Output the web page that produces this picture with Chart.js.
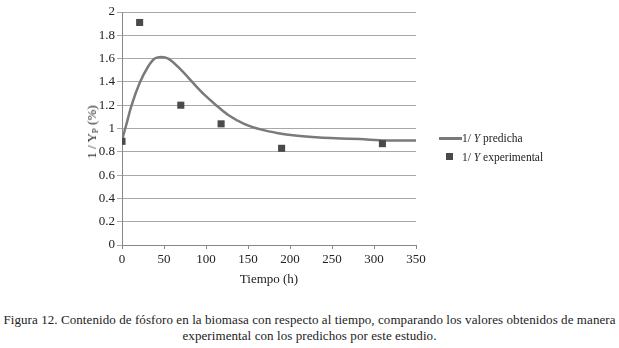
<!DOCTYPE html>
<html>
<head>
<meta charset="utf-8">
<script src="https://cdn.jsdelivr.net/npm/chart.js@4/dist/chart.umd.min.js"></script>
<style>
  body { margin: 0; background: #fff; font-family: "Liberation Serif", serif; color: #222; }
  #wrap { position: relative; width: 619px; height: 348px; overflow: hidden; }
  #chart-box { position: absolute; left: 0; top: 0; width: 619px; height: 292px; }
  .ytitle { position: absolute; left: 92px; top: 132px; transform: translate(-50%, -50%) rotate(-90deg);
    font-size: 13px; white-space: nowrap; }
  .ytitle sub { font-size: 9px; vertical-align: -2px; }
  .leg { position: absolute; left: 462px; font-size: 11.5px; white-space: nowrap; line-height: 14px; }
  .leg-line { position: absolute; left: 439px; top: 137px; width: 23px; height: 2.5px; background: #7a7a7a; }
  .leg-sq { position: absolute; left: 446px; top: 153px; width: 7px; height: 7px; background: #4a4a4a; }
  .caption { position: absolute; left: 0; top: 312px; width: 619px; text-align: center;
    font-size: 13px; letter-spacing: 0.08px; line-height: 16px; white-space: nowrap; }
</style>
</head>
<body>
<div id="wrap">
  <div id="chart-box"><canvas id="chart"></canvas></div>
  <div class="ytitle">1 / Y<sub>P</sub> (%)</div>
  <div class="leg-line"></div>
  <div class="leg" style="top:131px">1/ <i>Y</i> predicha</div>
  <div class="leg-sq"></div>
  <div class="leg" style="top:150px">1/ <i>Y</i> experimental</div>
  <div class="caption">Figura 12. Contenido de fósforo en la biomasa con respecto al tiempo, comparando los valores obtenidos de manera<br>experimental con los predichos por este estudio.</div>
</div>
<script>
// predicted curve (1/Y predicha)
const predTime = [0, 5, 11, 21, 31, 39, 47, 55, 70, 86, 98, 112, 126, 146, 166, 186, 206, 235, 260, 283, 315, 350];
const predValue = [0.90, 1.03, 1.19, 1.39, 1.53, 1.60, 1.614, 1.60, 1.505, 1.38, 1.29, 1.20, 1.118, 1.038, 0.99, 0.96, 0.94, 0.923, 0.915, 0.909, 0.897, 0.897];

// experimental points (1/Y experimental)
const expTime = [0, 21, 70, 118, 190, 310];
const expValue = [0.89, 1.91, 1.20, 1.04, 0.83, 0.87];

const xTitle = 'Tiempo (h)';
const serif = '"Liberation Serif", serif';

const toXY = (xs, ys) => xs.map((x, i) => ({ x, y: ys[i] }));

new Chart(document.getElementById('chart'), {
  type: 'scatter',
  data: {
    datasets: [
      {
        label: '1/Y predicha',
        data: toXY(predTime, predValue),
        showLine: true,
        borderColor: '#7a7a7a',
        borderWidth: 2.5,
        pointRadius: 0,
        cubicInterpolationMode: 'monotone',
        order: 2,
      },
      {
        label: '1/Y experimental',
        data: toXY(expTime, expValue),
        pointStyle: 'rect',
        pointRadius: 5,
        backgroundColor: '#4a4a4a',
        borderColor: '#4a4a4a',
        borderWidth: 0,
        order: 1,
      },
    ],
  },
  options: {
    responsive: true,
    maintainAspectRatio: false,
    animation: false,
    layout: { padding: { left: 82, right: 203, top: 12, bottom: 0 } },
    plugins: { legend: { display: false }, tooltip: { enabled: false } },
    scales: {
      x: {
        type: 'linear', min: 0, max: 350,
        ticks: { stepSize: 50, color: '#222', padding: 3, font: { family: serif, size: 13 } },
        grid: { drawOnChartArea: false, tickLength: 4, color: '#888' },
        border: { color: '#888' },
        title: { display: true, text: xTitle, color: '#222', font: { family: serif, size: 13 }, padding: { top: 2, bottom: 5 } },
        afterFit: (s) => { s.height = 47; },
      },
      y: {
        min: 0, max: 2,
        ticks: { stepSize: 0.2, color: '#222', padding: 2, font: { family: serif, size: 13 },
          callback: (v) => String(+v.toFixed(1)) },
        grid: { color: '#a8a8a8', tickLength: 5 },
        border: { color: '#888' },
        afterFit: (s) => { s.width = 40; },
      },
    },
  },
});
</script>
</body>
</html>
